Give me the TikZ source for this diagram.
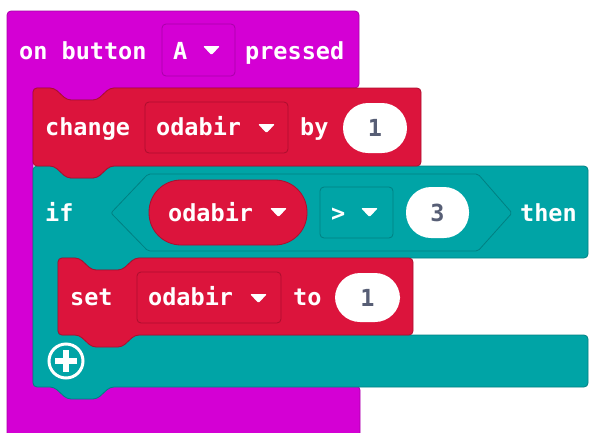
\documentclass[tikz,border=0pt]{standalone}
\usepackage{fontspec}
\newfontfamily\blockfont{DejaVu Sans Mono}
\usetikzlibrary{positioning}
\definecolor{inputpink}{RGB}{212,0,212}
\definecolor{inputedge}{RGB}{168,0,168}
\definecolor{varred}{RGB}{220,20,60}
\definecolor{varedge}{RGB}{172,14,46}
\definecolor{logicteal}{RGB}{0,164,166}
\definecolor{logicedge}{RGB}{0,128,130}
\definecolor{numgray}{RGB}{87,94,117}

\begin{document}
\begin{tikzpicture}[x=1pt, y=-1pt,
    blocktext/.style={font=\blockfont\bfseries\fontsize{23.5}{28}\selectfont, text=white, inner sep=0pt, anchor=base west},
    numval/.style={font=\blockfont\bfseries\fontsize{23.5}{28}\selectfont, text=numgray, fill=white, inner sep=0pt, rounded corners=25pt, minimum width=64pt, minimum height=50pt},
    ddfield/.style={rectangle, rounded corners=4pt, line width=0.8pt, inner sep=0pt},
    blockshape/.style={rounded corners=4pt, line width=0.8pt},
    ddcaret/.style={fill=white, rounded corners=1.2pt}
]
\useasboundingbox (0,0) rectangle (590,432);
\clip (0,0) rectangle (590,432);

% Hat block: on button pressed
\filldraw[blockshape, fill=inputpink, draw=inputedge]
  (7,11) -- (359,11) -- (359,88) -- (110,88) -- (97,100) -- (67,100) -- (54,88)
  -- (33,88) -- (33,386) -- (360,386) -- (360,445) -- (7,445) -- cycle;

\node[blocktext] (onbtn) at (19,59) {on button};
\node[ddfield, fill=inputpink, draw=inputedge, minimum width=73pt, minimum height=52pt] (btnfield) at (198.5,50) {};
\node[blocktext] (btnA) at (173,59) {A};
\fill[ddcaret] (203,46) -- (220,46) -- (211.5,55) -- cycle;
\node[blocktext] (pressed) at (245,59) {pressed};

% If block
\filldraw[blockshape, fill=logicteal, draw=logicedge]
  (33,166) -- (54,166) -- (67,178) -- (97,178) -- (110,166) -- (588,166) -- (588,258)
  -- (135,258) -- (122,270) -- (92,270) -- (79,258) -- (58,258) -- (58,335)
  -- (588,335) -- (588,387) -- (110,387) -- (97,399) -- (67,399) -- (54,387)
  -- (33,387) -- cycle;

\node[blocktext] (iftext) at (45,221) {if};
\draw[line width=0.8pt, logicedge, rounded corners=2pt]
  (111,213) -- (148,174) -- (478,174) -- (512,213) -- (478,251) -- (148,251) -- cycle;

\node[ddfield, fill=varred, draw=varedge, rounded corners=32pt, minimum width=158pt, minimum height=65pt] (condvar) at (228,212.5) {};
\node[blocktext] (condvartext) at (168,221) {odabir};
\fill[ddcaret] (270,208) -- (287,208) -- (278.5,217) -- cycle;

\node[ddfield, fill=logicteal, draw=logicedge, minimum width=73pt, minimum height=51pt] (opfield) at (356.5,212.5) {};
\node[blocktext] (optext) at (331,221) {>};
\fill[ddcaret] (361,208) -- (378,208) -- (369.5,217) -- cycle;

\node[numval, minimum width=63pt, minimum height=51pt] (condnum) at (437.5,212.5) {3};
\node[blocktext] (thentext) at (520,221) {then};

% Change block
\filldraw[blockshape, fill=varred, draw=varedge]
  (33,88) -- (54,88) -- (67,100) -- (97,100) -- (110,88) -- (421,88) -- (421,166)
  -- (110,166) -- (97,178) -- (67,178) -- (54,166) -- (33,166) -- cycle;

\node[blocktext] (changetext) at (45,135) {change};
\node[ddfield, fill=varred, draw=varedge, minimum width=143pt, minimum height=51pt] (changevar) at (216.5,127.5) {};
\node[blocktext] (changevartext) at (156,135) {odabir};
\fill[ddcaret] (258,124) -- (275,124) -- (266.5,133) -- cycle;
\node[blocktext] (bytext) at (300,135) {by};
\node[numval] (changenum) at (375,128) {1};

% Set block
\filldraw[blockshape, fill=varred, draw=varedge]
  (58,258) -- (79,258) -- (92,270) -- (122,270) -- (135,258) -- (413,258) -- (413,335)
  -- (135,335) -- (122,347) -- (92,347) -- (79,335) -- (58,335) -- cycle;

\node[blocktext] (settext) at (70,305) {set};
\node[ddfield, fill=varred, draw=varedge, minimum width=144pt, minimum height=51pt] (setvar) at (209,297.5) {};
\node[blocktext] (setvartext) at (148,305) {odabir};
\fill[ddcaret] (250,294) -- (267,294) -- (258.5,303) -- cycle;
\node[blocktext] (totext) at (293,305) {to};
\node[numval, minimum width=65pt, minimum height=49pt] (setnum) at (367.5,297.5) {1};

% Add button
\draw[white, line width=3pt] (66,361) circle (17pt);
\draw[white, line width=6pt] (55,361) -- (77,361) (66,350) -- (66,372);

\end{tikzpicture}
\end{document}
